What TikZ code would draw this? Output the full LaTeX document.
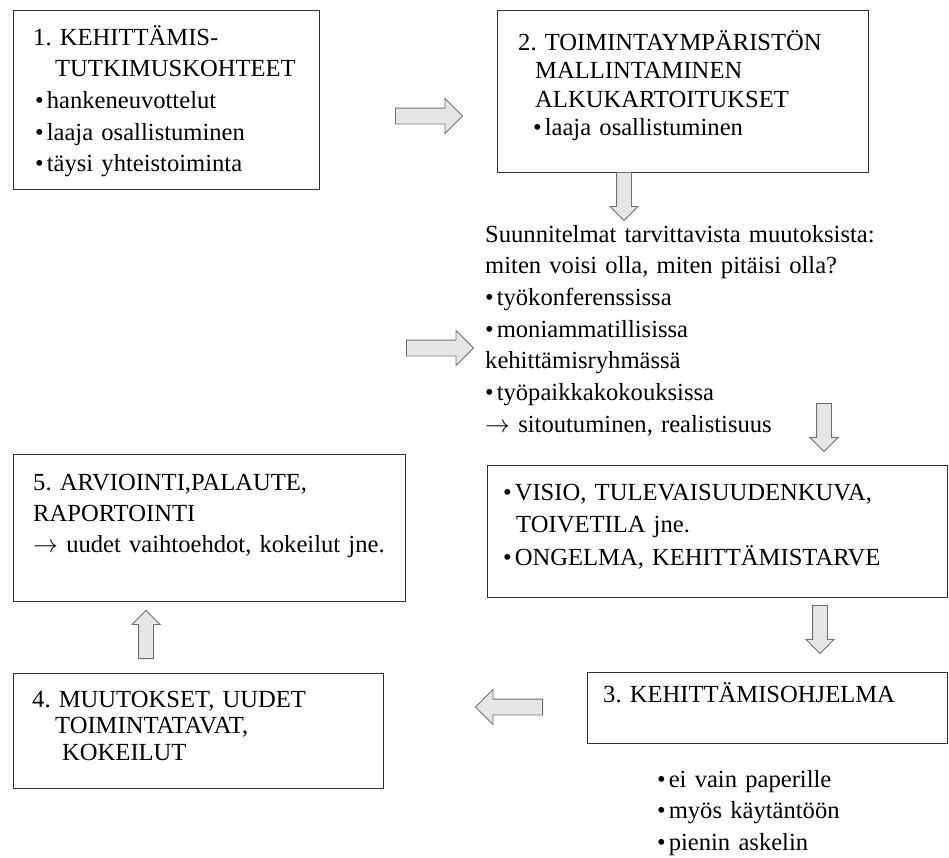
\documentclass[tikz,border=0pt]{standalone}
\usepackage{fontspec}
\setmainfont{Liberation Serif}
\usepackage{tikz}
\usetikzlibrary{shapes.arrows}
\frenchspacing
\definecolor{arrowfill}{HTML}{E6E6E6}
\definecolor{arrowline}{HTML}{707070}
\tikzstyle{phase} = [rectangle, anchor=north west, draw=black!80, line width=1.2pt, inner sep=0pt]
\tikzstyle{boxtext} = [anchor=base west, inner sep=0pt, text width=440pt, align=left, font=\fontsize{24.6}{31.7}\selectfont]
\tikzstyle{flow} = [single arrow, draw=arrowline, fill=arrowfill, line width=0.9pt, single arrow tip angle=90]
\tikzstyle{flowh} = [flow, inner sep=7.5pt, single arrow head extend=9.5pt, minimum height=67pt]
\tikzstyle{flowv} = [flow, inner sep=7pt, single arrow head extend=6.5pt, minimum height=48pt]
\newcommand{\bul}{\textbullet\hspace{3pt}}

\begin{document}
\begin{tikzpicture}[x=1pt, y=-1pt]
  \useasboundingbox (0,0) rectangle (949,857);

  \node (box1) [phase, minimum width=306pt, minimum height=179pt] at (13,10) {};
  \node (box2) [phase, minimum width=371pt, minimum height=162pt] at (497,10) {};
  \node (vision) [phase, minimum width=460pt, minimum height=132pt] at (487,465) {};
  \node (box3) [phase, minimum width=360pt, minimum height=71pt] at (587,672) {};
  \node (box4) [phase, minimum width=370pt, minimum height=115pt] at (13,673) {};
  \node (box5) [phase, minimum width=392pt, minimum height=147pt] at (13,454) {};

  \node (text1) [boxtext] at (33,45) {1. KEHITTÄMIS-\\
    \hspace*{22pt}TUTKIMUSKOHTEET\\
    \hspace*{2pt}\bul hankeneuvottelut\\
    \hspace*{2pt}\bul laaja osallistuminen\\
    \hspace*{2pt}\bul täysi yhteistoiminta};
  \node (text2) [boxtext, font=\fontsize{24.6}{28.5}\selectfont] at (518,50) {2. TOIMINTAYMPÄRISTÖN\\
    \hspace*{17pt}MALLINTAMINEN\\
    \hspace*{17pt}ALKUKARTOITUKSET\\
    \hspace*{15pt}\bul laaja osallistuminen};
  \node (plans) [boxtext] at (485,242) {Suunnitelmat tarvittavista muutoksista:\\
    miten voisi olla, miten pitäisi olla?\\
    \bul työkonferenssissa\\
    \bul moniammatillisissa\\
    kehittämisryhmässä\\
    \bul työpaikkakokouksissa\\
    $\rightarrow$ sitoutuminen, realistisuus};
  \node (textv) [boxtext, font=\fontsize{24.6}{32.5}\selectfont] at (503,500) {\bul VISIO, TULEVAISUUDENKUVA,\\
    \hspace*{13pt}TOIVETILA jne.\\
    \bul ONGELMA, KEHITTÄMISTARVE};
  \node (text3) [boxtext] at (603,702) {3. KEHITTÄMISOHJELMA};
  \node (steps) [boxtext, font=\fontsize{24.6}{31.5}\selectfont] at (657,787) {\bul ei vain paperille\\
    \bul myös käytäntöön\\
    \bul pienin askelin};
  \node (text4) [boxtext, font=\fontsize{24.6}{26.5}\selectfont] at (32,707) {4. MUUTOKSET, UUDET\\
    \hspace*{23pt}TOIMINTATAVAT,\\
    \hspace*{30pt}KOKEILUT};
  \node (text5) [boxtext, font=\fontsize{24.6}{31}\selectfont] at (33,490) {5. ARVIOINTI,PALAUTE,\\
    RAPORTOINTI\\
    $\rightarrow$ uudet vaihtoehdot, kokeilut jne.};

  \node (arr12) [flowh, anchor=tail] at (395,116) {};
  \node (arr2p) [flowv, anchor=tail, shape border rotate=270] at (624,172) {};
  \node (arrin) [flowh, anchor=tail] at (406,348) {};
  \node (arrpv) [flowv, anchor=tail, shape border rotate=270] at (824,403) {};
  \node (arrv3) [flowv, anchor=tail, shape border rotate=270] at (820,605) {};
  \node (arr34) [flowh, anchor=tail, shape border rotate=180] at (543,707) {};
  \node (arr45) [flowv, anchor=tail, shape border rotate=90] at (146,659) {};

\end{tikzpicture}
\end{document}
